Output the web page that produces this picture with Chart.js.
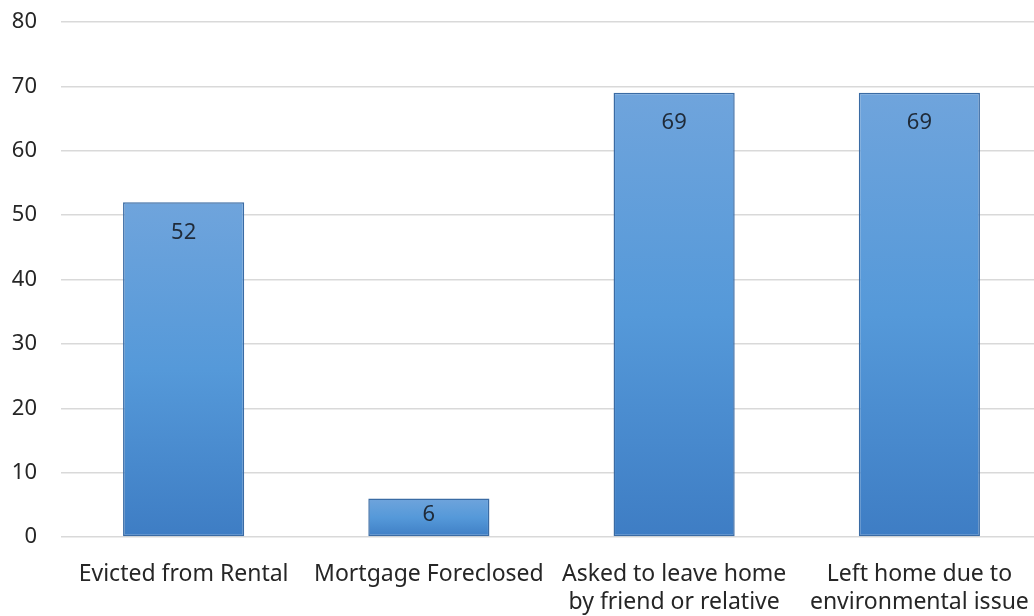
<!DOCTYPE html>
<html lang="en">
<head>
  <meta charset="UTF-8">
  <title>Reasons for leaving home</title>
  <style>
    html, body { margin: 0; padding: 0; background: #fff; overflow: hidden; }
    #wrap { width: 1042px; height: 616px; }
  </style>
  <script src="https://cdn.jsdelivr.net/npm/chart.js"></script>
</head>
<body>
  <div id="wrap"><canvas id="reasonChart" width="1042" height="616"></canvas></div>

  <script>
    const categories = [
      'Evicted from Rental',
      'Mortgage Foreclosed',
      ['Asked to leave home', 'by friend or relative'],
      ['Left home due to', 'environmental issue']
    ];
    const counts = [52, 6, 69, 69];
    const yTicks = [0, 10, 20, 30, 40, 50, 60, 70, 80];

    const FONT = '"Noto Sans", "Open Sans", sans-serif';

    // vertical gradient per bar, lighter at the top
    function barFill(ctx) {
      const chart = ctx.chart;
      if (!chart.chartArea || ctx.raw === undefined) return '#5b9bd5';
      const y = chart.scales.y;
      const top = y.getPixelForValue(ctx.raw);
      const base = y.getPixelForValue(0);
      if (!isFinite(top) || base - top < 1) return '#5b9bd5';
      const g = chart.ctx.createLinearGradient(0, top, 0, base);
      g.addColorStop(0, '#6fa4dc');
      g.addColorStop(0.5, '#5599d9');
      g.addColorStop(1, '#3e7dc4');
      return g;
    }

    // value text just inside the top of each bar
    const valueLabels = {
      id: 'valueLabels',
      afterDatasetsDraw(chart) {
        const c = chart.ctx;
        const meta = chart.getDatasetMeta(0);
        c.save();
        c.font = '22px ' + FONT;
        c.fillStyle = '#1f2a38';
        c.textAlign = 'center';
        c.textBaseline = 'middle';
        meta.data.forEach((bar, i) => {
          const y = Math.min(bar.y + 30, (bar.y + bar.base) / 2 - 3);
          c.fillText(String(counts[i]), bar.x, y);
        });
        c.restore();
      }
    };

    new Chart(document.getElementById('reasonChart'), {
      type: 'bar',
      data: {
        labels: categories,
        datasets: [{
          data: counts,
          backgroundColor: barFill,
          borderColor: '#3a6ba4',
          borderWidth: 1.5,
          borderSkipped: false,
          barPercentage: 1,
          categoryPercentage: 0.494
        }]
      },
      options: {
        responsive: false,
        animation: false,
        layout: { padding: { top: 22, left: 0, right: 0, bottom: 0 } },
        plugins: {
          legend: { display: false },
          tooltip: { enabled: false }
        },
        scales: {
          x: {
            grid: { display: false, drawTicks: false },
            border: { display: false },
            ticks: {
              color: '#262626',
              font: { family: FONT, size: 23 },
              padding: 24,
              maxRotation: 0,
              autoSkip: false
            },
            afterFit(scale) {
              scale.height = 79;
              scale.paddingLeft = 0;
              scale.paddingRight = 0;
            }
          },
          y: {
            min: 0,
            max: 80,
            afterBuildTicks(scale) { scale.ticks = yTicks.map(v => ({ value: v })); },
            grid: { color: '#d9d9d9', lineWidth: 1.5, drawTicks: false },
            border: { display: false },
            ticks: {
              color: '#262626',
              font: { family: FONT, size: 22 },
              padding: 24
            },
            afterFit(scale) {
              scale.width = 61;
              scale.paddingTop = 0;
              scale.paddingBottom = 0;
            }
          }
        }
      },
      plugins: [valueLabels]
    });
  </script>
</body>
</html>
